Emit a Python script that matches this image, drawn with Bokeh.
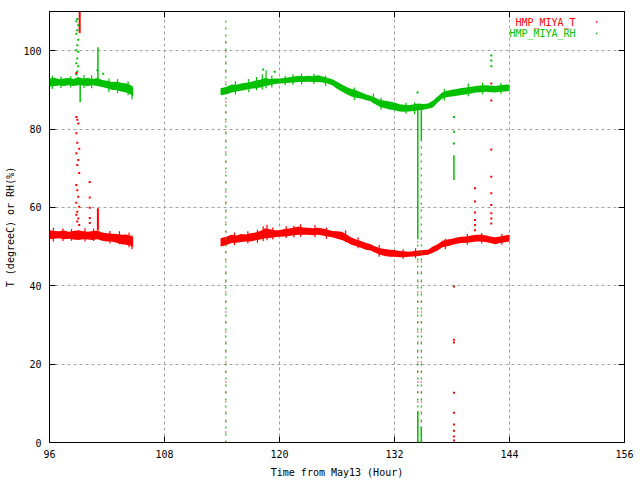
from bokeh.plotting import figure
from bokeh.models import FixedTicker, Range1d, LinearAxis, CustomJSTickFormatter
from bokeh.core.properties import value
from bokeh.embed import file_html
from bokeh.resources import INLINE

# ---------------- data ----------------
# segment 1 (hours since May13 00:00)
t1 = [96.0, 96.5, 97.0, 97.5, 98.0, 98.5, 99.0, 99.5, 100.0, 100.5, 101.0,
      101.5, 102.0, 102.5, 103.0, 103.5, 104.0, 104.5, 104.73]
rh1_hi = [92.9, 93.1, 92.7, 92.9, 93.0, 92.8, 93.3, 92.9, 93.0, 92.8, 93.0,
          92.5, 92.3, 92.0, 92.1, 91.8, 91.6, 91.2, 90.6]
rh1_lo = [90.8, 91.0, 91.1, 91.0, 91.2, 91.0, 91.2, 91.1, 91.0, 91.2, 91.0,
          90.7, 90.4, 90.0, 89.9, 89.6, 89.3, 88.8, 88.2]
T1_hi = [54.2, 54.0, 53.9, 54.1, 53.8, 54.0, 54.2, 53.9, 53.8, 54.0, 54.1,
         53.6, 53.4, 53.3, 53.2, 53.0, 53.1, 52.7, 52.4]
T1_lo = [51.9, 52.0, 52.1, 51.9, 52.0, 51.8, 51.7, 51.9, 51.8, 51.7, 51.9,
         51.5, 51.3, 51.3, 51.0, 50.6, 50.5, 50.2, 49.8]

# segment 2
t2 = [113.85, 114.5, 115.0, 115.5, 116.0, 116.5, 117.0, 117.5, 118.0, 118.5,
      119.0, 119.5, 120.0, 120.5, 121.0, 121.5, 122.0, 122.5, 123.0, 123.5,
      124.0, 124.5, 125.0, 125.5, 126.0, 126.5, 127.0, 127.5, 128.0, 128.5,
      129.0, 129.5, 130.0, 130.5, 131.0, 131.5, 132.0, 132.5, 133.0, 133.5,
      134.0, 134.5, 135.0, 135.5, 136.0, 136.5, 137.0, 137.5, 138.0, 138.5,
      139.0, 139.5, 140.0, 140.5, 141.0, 141.5, 142.0, 142.5, 143.0, 143.5, 144.0]
rh2_hi = [90.4, 90.8, 91.4, 91.3, 91.6, 91.8, 92.0, 92.4, 92.6, 93.0,
          92.8, 92.9, 92.9, 93.0, 93.2, 93.4, 93.6, 93.5, 93.6, 93.5,
          93.7, 93.4, 93.1, 92.7, 92.1, 91.4, 90.7, 90.2, 89.9, 89.4,
          88.9, 88.5, 88.0, 87.4, 87.2, 87.0, 86.8, 86.3, 86.2, 86.1,
          86.3, 86.5, 86.4, 86.5, 87.2, 88.3, 89.4, 89.8, 90.0, 90.2,
          90.5, 90.6, 90.8, 91.0, 91.1, 91.2, 91.1, 91.0, 91.2, 91.3, 91.4]
rh2_lo = [88.6, 88.9, 89.3, 89.6, 89.8, 90.0, 90.3, 90.4, 90.6, 91.0,
          91.2, 91.5, 91.6, 91.7, 91.8, 91.9, 92.0, 92.0, 92.1, 92.0,
          92.0, 91.9, 91.6, 91.2, 90.3, 89.6, 88.9, 88.3, 88.0, 87.8,
          87.4, 87.1, 86.3, 85.6, 85.3, 85.0, 84.8, 84.5, 84.4, 84.5,
          84.6, 84.8, 84.9, 85.2, 85.5, 86.8, 87.8, 88.2, 88.3, 88.5,
          88.7, 88.9, 89.1, 89.3, 89.4, 89.5, 89.4, 89.3, 89.5, 89.6, 89.7]
T2_hi = [52.1, 52.6, 53.0, 52.8, 53.2, 53.1, 53.4, 53.6, 54.0, 54.7,
         54.4, 54.2, 54.2, 54.5, 54.6, 54.9, 55.1, 54.9, 54.8, 54.7,
         54.8, 54.6, 54.3, 54.0, 53.9, 53.8, 53.1, 52.3, 51.8, 51.4,
         51.0, 50.6, 50.0, 49.6, 49.4, 49.2, 49.1, 48.9, 48.8, 48.7,
         48.9, 49.0, 49.1, 49.2, 50.0, 50.6, 51.5, 51.8, 52.0, 52.3,
         52.5, 52.6, 52.8, 53.0, 53.0, 52.9, 52.6, 52.4, 52.6, 52.8, 53.0]
T2_lo = [50.0, 50.4, 50.9, 51.0, 51.2, 51.3, 51.3, 51.6, 51.8, 52.1,
         52.2, 52.4, 52.5, 52.6, 52.7, 52.9, 53.0, 53.0, 53.0, 52.9,
         53.0, 52.8, 52.6, 52.4, 52.0, 51.7, 51.2, 50.5, 50.1, 49.7,
         49.2, 49.0, 48.4, 47.9, 47.6, 47.4, 47.4, 47.3, 47.3, 47.4,
         47.5, 47.6, 47.8, 47.9, 48.4, 49.0, 49.8, 50.1, 50.4, 50.7,
         50.9, 51.0, 51.1, 51.3, 51.3, 51.2, 50.9, 50.6, 50.9, 51.1, 51.3]

# short noise spikes sticking out of the bands: time, top, bottom
spkRH_t = [96.3, 97.2, 98.2, 99.6, 100.4, 102.2, 103.1, 104.2, 104.6,
           115.4, 116.8, 117.6, 118.2, 118.6, 119.2, 120.6, 121.4, 122.3, 123.6,
           124.8, 127.8, 129.8, 130.6, 133.2, 134.1, 137.2, 139.7, 141.2, 143.1]
spkRH_top = [93.6, 93.4, 93.5, 93.8, 93.7, 92.9, 92.8, 92.2, 91.0,
             92.2, 92.8, 93.3, 94.0, 95.0, 93.6, 93.6, 94.0, 94.2, 94.1,
             93.6, 90.6, 89.1, 88.0, 86.7, 86.8, 90.2, 91.6, 91.8, 91.8]
spkRH_bot = [90.2, 90.5, 90.6, 90.5, 90.4, 89.4, 89.2, 88.6, 87.6,
             88.8, 89.4, 89.9, 90.1, 90.4, 90.6, 91.2, 91.3, 91.4, 91.5,
             91.0, 87.4, 86.6, 84.9, 83.9, 83.8, 87.3, 88.4, 88.9, 89.0]
spkT_t = [96.4, 97.4, 98.3, 99.7, 100.6, 102.3, 103.3, 104.3, 104.6,
          115.3, 116.7, 117.7, 118.3, 118.7, 119.3, 120.7, 121.5, 122.2, 123.7,
          124.9, 126.9, 128.2, 130.4, 132.9, 134.2, 137.3, 139.6, 141.1, 143.2]
spkT_top = [54.8, 54.6, 54.5, 54.7, 54.6, 54.0, 53.9, 53.6, 52.9,
            53.6, 53.9, 54.3, 55.2, 55.6, 54.9, 55.2, 55.3, 55.7, 55.5,
            54.9, 54.2, 52.4, 50.4, 49.3, 49.6, 52.0, 53.2, 53.5, 53.3]
spkT_bot = [51.3, 51.4, 51.5, 51.3, 51.4, 50.8, 50.6, 49.8, 49.3,
            50.4, 50.8, 51.0, 51.4, 51.6, 51.8, 52.2, 52.3, 52.5, 52.4,
            52.0, 51.1, 49.6, 47.4, 46.9, 47.0, 49.3, 50.5, 50.8, 50.5]

# isolated outlier readings
outT_t = [98.8, 98.9, 99.0, 98.8, 98.9, 99.1, 98.8, 99.0, 98.9, 99.1, 98.8,
          98.9, 99.0, 98.8, 99.1, 98.9, 98.8, 99.0, 98.9, 99.1, 98.8,
          100.2, 100.2, 100.2, 100.2, 100.2,
          140.4, 140.4, 140.4, 140.4, 140.4, 140.4,
          142.1, 142.1, 142.1, 142.1, 142.1, 142.1, 142.1, 142.1, 142.1,
          138.2, 138.2, 138.2, 138.2, 138.2, 138.2, 138.2, 138.2, 138.2]
outT_v = [83.1, 82.4, 81.4, 78.9, 76.5, 75.0, 73.8, 72.1, 70.8, 68.8, 65.7,
          64.4, 62.7, 61.2, 60.2, 58.9, 58.1, 57.2, 56.4, 55.5, 94.3,
          66.5, 62.5, 59.9, 57.3, 56.0,
          64.9, 61.5, 58.7, 56.8, 55.5, 54.2,
          91.6, 87.3, 74.8, 67.8, 63.6, 60.6, 58.5, 57.2, 55.9,
          39.8, 26.2, 25.5, 12.7, 7.6, 4.6, 3.0, 1.5, 0.5]
outRH_t = [98.9, 98.8, 99.0, 98.9, 98.8, 99.0, 98.9, 98.8, 99.0, 98.9, 98.8,
           99.0, 98.9, 98.8, 101.6, 101.0, 118.3, 119.5,
           138.2, 138.2, 138.2, 142.1, 142.1, 142.1, 134.4]
outRH_v = [108.1, 107.5, 106.5, 105.2, 104.3, 102.8, 101.4, 100.1, 99.7, 98.0, 96.8,
           96.0, 94.7, 93.9, 94.1, 95.0, 95.2, 94.6,
           83.1, 79.3, 76.3, 98.8, 97.5, 96.0, 89.3]

# solid vertical runs of readings: time, top, bottom
runRH_t = [99.2, 101.05, 134.43, 134.8, 134.43, 134.8, 138.2]
runRH_top = [92.5, 100.9, 85.2, 85.2, 8.0, 4.0, 73.3]
runRH_bot = [86.9, 92.6, 52.0, 77.2, 0.0, 0.0, 67.0]
runT_t = [99.15, 101.05]
runT_top = [110.0, 59.8]
runT_bot = [104.5, 54.2]

# sparse (dotted) vertical runs of readings: time, top, bottom
dotRH_t = [114.4, 134.43, 134.8]
dotRH_top = [108.6, 52.0, 77.2]
dotRH_bot = [0.0, 0.0, 0.0]
dotT_t = [114.4, 134.43, 134.8]
dotT_top = [104.0, 52.0, 48.5]
dotT_bot = [0.0, 0.0, 0.0]

series_names = ["HMP_MIYA_T", "HMP_MIYA_RH"]
x_ticks = [96, 108, 120, 132, 144, 156]
y_ticks = [0, 20, 40, 60, 80, 100]

RED = "#ff0000"
GREEN = "#00c000"
FONT = "DejaVu Sans Mono"
FS = "10px"

p = figure(width=640, height=480, output_backend="svg", toolbar_location=None,
           x_range=Range1d(96, 156), y_range=Range1d(0, 110),
           min_border_left=49, min_border_top=11, min_border_right=16,
           min_border_bottom=37)
p.outline_line_color = "black"
p.outline_line_width = 1
p.background_fill_color = "white"
p.border_fill_color = "white"

# axes
for ax in (p.xaxis[0], p.yaxis[0]):
    ax.major_tick_in = 6
    ax.major_tick_out = 0
    ax.minor_tick_in = 0
    ax.minor_tick_out = 0
    ax.axis_line_color = None
    ax.major_label_text_font = FONT
    ax.major_label_text_font_size = FS
    ax.major_label_text_color = "black"
    ax.axis_label_text_font = FONT
    ax.axis_label_text_font_size = FS
    ax.axis_label_text_font_style = "normal"
    ax.axis_label_text_color = "black"
    ax.major_tick_line_color = "black"
p.xaxis[0].ticker = FixedTicker(ticks=x_ticks)
p.yaxis[0].ticker = FixedTicker(ticks=y_ticks)
p.xaxis[0].axis_label = "Time from May13 (Hour)"
p.yaxis[0].axis_label = "T (degreeC) or RH(%)"
p.xaxis[0].major_label_standoff = 7
p.yaxis[0].major_label_standoff = 8
p.xaxis[0].axis_label_standoff = 6
p.yaxis[0].axis_label_standoff = 4

# mirrored ticks (no labels)
for side, tk in (("right", y_ticks), ("above", x_ticks)):
    ax = LinearAxis(ticker=FixedTicker(ticks=tk),
                    formatter=CustomJSTickFormatter(code="return ''"))
    ax.major_tick_in = 6
    ax.major_tick_out = 0
    ax.minor_tick_in = 0
    ax.minor_tick_out = 0
    ax.axis_line_color = None
    ax.major_label_standoff = 0
    ax.major_tick_line_color = "black"
    p.add_layout(ax, side)

p.xgrid.ticker = FixedTicker(ticks=x_ticks)
p.ygrid.ticker = FixedTicker(ticks=y_ticks)
for g in (p.xgrid[0], p.ygrid[0]):
    g.grid_line_color = "#a0a0a0"
    g.grid_line_dash = "3 3"
    g.grid_line_width = 1

# bands
p.varea(x=t1, y1=rh1_lo, y2=rh1_hi, fill_color=GREEN)
p.varea(x=t2, y1=rh2_lo, y2=rh2_hi, fill_color=GREEN)
p.varea(x=t1, y1=T1_lo, y2=T1_hi, fill_color=RED)
p.varea(x=t2, y1=T2_lo, y2=T2_hi, fill_color=RED)
# band noise
p.segment(x0=spkRH_t, y0=spkRH_bot, x1=spkRH_t, y1=spkRH_top,
          line_color=GREEN, line_width=1.2)
p.segment(x0=spkT_t, y0=spkT_bot, x1=spkT_t, y1=spkT_top,
          line_color=RED, line_width=1.2)

# sparse runs
p.segment(x0=dotRH_t, y0=dotRH_bot, x1=dotRH_t, y1=dotRH_top,
          line_color=GREEN, line_width=1.2, line_dash="2 5")
p.segment(x0=dotT_t, y0=dotT_bot, x1=dotT_t, y1=dotT_top,
          line_color=RED, line_width=1.2, line_dash="1 9")
# solid runs
p.segment(x0=runRH_t, y0=runRH_bot, x1=runRH_t, y1=runRH_top,
          line_color=GREEN, line_width=1.5)
p.segment(x0=runT_t, y0=runT_bot, x1=runT_t, y1=runT_top,
          line_color=RED, line_width=2)
# outliers
p.scatter(x=outRH_t, y=outRH_v, marker="square", size=2,
          fill_color=GREEN, line_color=None)
p.scatter(x=outT_t, y=outT_v, marker="square", size=2,
          fill_color=RED, line_color=None)

# key
key_x_text = [150.9, 150.9]
key_y = [107.3, 104.4]
key_x_mark = [153.1, 153.1]
p.text(x=key_x_text, y=key_y, text=series_names,
       text_color=[RED, GREEN], text_align="right", text_baseline="middle",
       text_font=value(FONT), text_font_size=FS)
p.scatter(x=key_x_mark, y=key_y, marker="square", size=1.5,
          fill_color=[RED, GREEN], line_color=None)

open("out.html", "w").write(file_html(p, INLINE))
